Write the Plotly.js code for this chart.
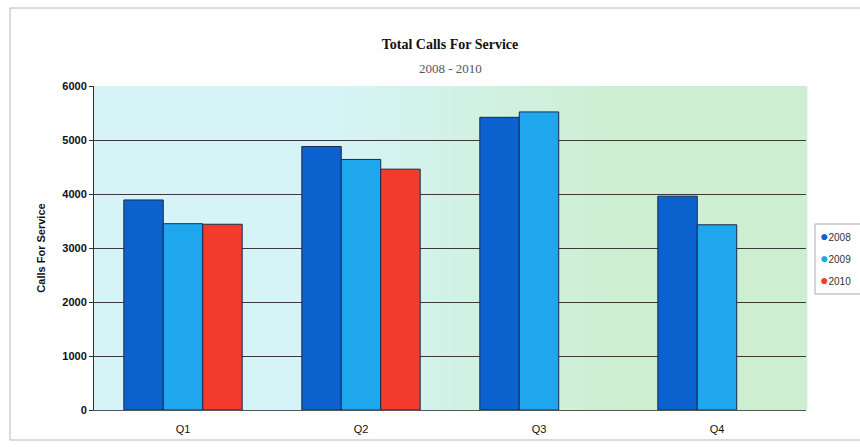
<!DOCTYPE html>
<html><head><meta charset="utf-8">
<script src="https://cdn.plot.ly/plotly-3.0.1.min.js"></script>
<style>html,body{margin:0;padding:0;background:#fff}#chart{width:860px;height:447px}</style>
</head><body><div id="chart"></div>
<script>
const categories = ['Q1','Q2','Q3','Q4'];
const seriesNames = ['2008','2009','2010'];
const v2008 = [3890, 4880, 5420, 3960];
const v2009 = [3450, 4640, 5520, 3430];
const v2010 = [3440, 4460, null, null];
const yTicks = [0,1000,2000,3000,4000,5000,6000];

const colors = ['#0b62cf','#1fa7ee','#f23b2c'];
const series = [v2008, v2009, v2010];
const traces = series.map((v,i)=>({
  type:'bar', x:categories, y:v, name:seriesNames[i],
  marker:{color:colors[i], line:{color:'#1a2a4a', width:1}}
}));

const H = 447, T = 86, B = 37, L = 94, R = 54;
const plotH = H - T - B, plotW = 860 - L - R;
const py = p => (H - B - p) / plotH;
const px = p => (p - L) / plotW;

const shapes = [];
const N = 60;
const c0 = [214,244,248], c1 = [205,238,208];
for (let k=0;k<N;k++){
  const t = Math.min(1, Math.max(0,(k/N - 0.3)/0.45));
  const c = c0.map((a,j)=>Math.round(a+(c1[j]-a)*t));
  shapes.push({type:'rect', xref:'x domain', yref:'y domain', x0:k/N, x1:(k+1)/N+0.002, y0:0, y1:1,
    fillcolor:`rgb(${c[0]},${c[1]},${c[2]})`, line:{width:0}, layer:'below'});
}
shapes.push({type:'rect', xref:'paper', yref:'paper', x0:px(10), x1:px(870), y0:py(440), y1:py(8),
  line:{color:'#b8b8b8', width:1}, fillcolor:'rgba(0,0,0,0)', layer:'below'});
shapes.push({type:'rect', xref:'paper', yref:'paper', x0:px(815), x1:px(875), y0:py(294), y1:py(224),
  line:{color:'#aaaaaa', width:1}, fillcolor:'#ffffff', layer:'above'});

const annotations = [{text:'2008 - 2010', xref:'paper', yref:'paper', x:0.5, y:py(68), yanchor:'middle',
    showarrow:false, font:{family:'Liberation Serif, Times New Roman, serif', size:13, color:'#555'}}];
const legY = [236, 258, 280];
seriesNames.forEach((n,i)=>{
  annotations.push({text:`<span style="color:${colors[i]};font-size:14px">●</span>${n}`, xref:'paper', yref:'paper',
    x:px(818), xanchor:'left', y:py(legY[i]), yanchor:'middle', showarrow:false,
    font:{family:'Arial, Liberation Sans', size:10, color:'#333'}});
});

const layout = {
  width:860, height:447,
  margin:{l:L, r:R, t:T, b:B, autoexpand:false},
  paper_bgcolor:'#ffffff', plot_bgcolor:'rgba(0,0,0,0)',
  barmode:'group', bargap:0.335, bargroupgap:0,
  showlegend:false,
  font:{family:'Arial, Liberation Sans', size:10, color:'#111'},
  title:{text:'<b>Total Calls For Service</b>',
    x:0.5, xref:'paper', y:0.912, yanchor:'top', font:{family:'Liberation Serif, Times New Roman, serif', size:14, color:'#111'}},
  annotations:annotations,
  xaxis:{type:'category', tickfont:{family:'Arial, Liberation Sans', size:11, color:'#111'},
    showline:true, linecolor:'#555', linewidth:1, ticks:'outside', ticklen:9, tickcolor:'rgba(0,0,0,0)',
    showgrid:false, fixedrange:true},
  yaxis:{range:[0,6000], tickvals:yTicks, ticktext:yTicks.map(String),
    tickfont:{family:'Arial, Liberation Sans', size:11, color:'#111', weight:'bold'},
    showgrid:true, gridcolor:'#3a3a3a', gridwidth:1, zeroline:false,
    showline:true, linecolor:'#333', linewidth:1, ticks:'outside', ticklen:4, tickcolor:'#333',
    title:{text:'<b>Calls For Service</b>', font:{family:'Arial, Liberation Sans', size:11, color:'#111'}, standoff:14}},
  shapes:shapes
};
Plotly.newPlot('chart', traces, layout, {displayModeBar:false, staticPlot:true});
</script></body></html>
